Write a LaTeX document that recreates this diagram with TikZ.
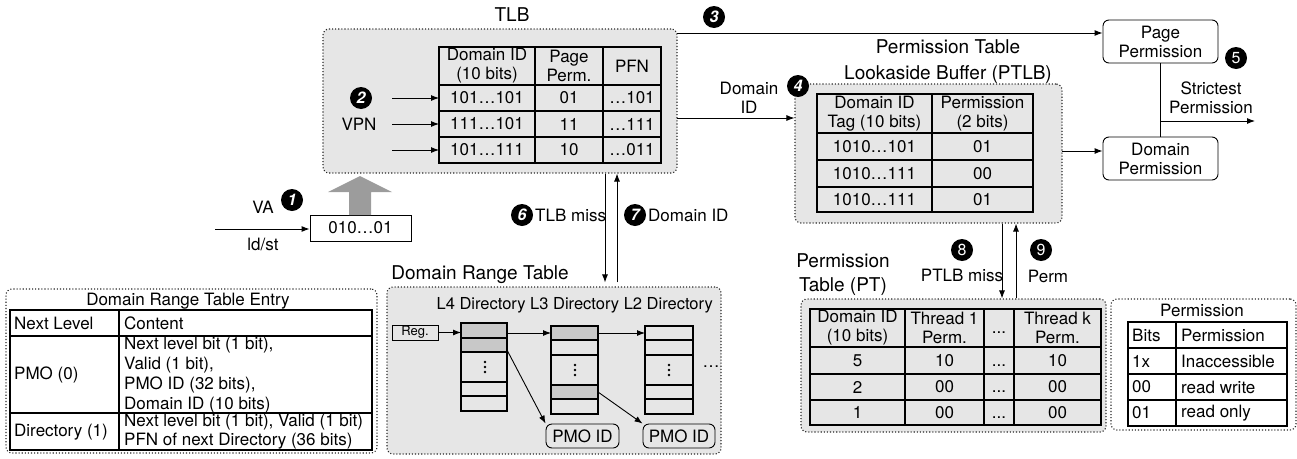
\documentclass[tikz,border=0pt]{standalone}
\usepackage{fontspec}
\setmainfont{TeX Gyre Heros}
\usetikzlibrary{arrows.meta,calc,fit}
\definecolor{boxgrey}{HTML}{E6E6E6}
\definecolor{cellgrey}{HTML}{C8C8C8}
\definecolor{bigarrow}{HTML}{9C9C9C}
\begin{document}
\begin{tikzpicture}[x=1pt,y=-1pt,
  font=\fontsize{17}{19}\selectfont,
  arr/.style={-{Latex[length=8pt,width=6pt]}, line width=0.9pt},
  dotbox/.style={draw=black!85, dotted, line width=1.1pt, rounded corners=6pt, inner sep=0pt},
  rbox/.style={draw, rounded corners=6pt, line width=0.9pt, inner sep=0pt, align=center},
  tl/.style={line width=1.1pt},
  txt/.style={inner sep=0pt, align=center},
  ltxt/.style={inner sep=0pt, anchor=west, align=left},
  title/.style={inner sep=0pt, align=center, font=\fontsize{19}{25}\selectfont},
  num/.style={circle, fill=black, text=white, inner sep=0pt, minimum size=22pt, font=\fontsize{16}{16}\selectfont\bfseries\itshape},
  numu/.style={num, font=\fontsize{16}{16}\selectfont}
]
\useasboundingbox (0,0) rectangle (1297,458);

% ================= TLB =================
\node[title] (tlbtitle) at (512,15) {TLB};
\node[dotbox, fill=boxgrey, fit={(323,29) (677,173)}] (tlb) {};
\draw[tl] (439,47) rectangle (661,163);
\foreach \y in {85,111,137} \draw[tl] (439,\y) -- (661,\y);
\foreach \x in {535,603} \draw[tl] (\x,47) -- (\x,163);
\node[txt] (th1) at (487,66) {Domain ID\\(10 bits)};
\node[txt] (th2) at (569,66) {Page\\Perm.};
\node[txt] (th3) at (632,66) {PFN};
\node[txt] (t11) at (487,98) {101…101};
\node[txt] (t12) at (569,98) {01};
\node[txt] (t13) at (632,98) {…101};
\node[txt] (t21) at (487,124) {111…101};
\node[txt] (t22) at (569,124) {11};
\node[txt] (t23) at (632,124) {…111};
\node[txt] (t31) at (487,150) {101…111};
\node[txt] (t32) at (569,150) {10};
\node[txt] (t33) at (632,150) {…011};
\foreach \y/\n in {98/a,124/b,150/c} {
  \coordinate (vs\n) at (392,\y);
  \coordinate (ve\n) at (439,\y);
  \draw[arr] (vs\n) -- (ve\n);
}
\node[num] (n2) at (361,98) {2};
\node[txt] (vpn) at (359,124) {VPN};

% VA input
\node[draw, line width=0.9pt, minimum width=101pt, minimum height=26pt, inner sep=0pt] (va) at (360.5,228) {010…01};
\coordinate (ldst) at (215,229);
\draw[arr] (ldst) -- (va.west |- ldst);
\node[txt] (ldsttxt) at (263,244) {ld/st};
\node[txt] (vatxt) at (263,207) {VA};
\node[num] (n1) at (292,200) {1};
\fill[bigarrow] (349,215) -- (349,192) -- (328,192) -- (360,176) -- (392,192) -- (371,192) -- (371,215) -- cycle;

% ================= Page / Domain permission =================
\node[rbox, minimum width=115pt, minimum height=43pt] (pagep) at (1160.5,41.5) {Page\\Permission};
\node[rbox, minimum width=115pt, minimum height=43pt] (domp) at (1160.5,158.5) {Domain\\Permission};
\coordinate (a3) at (677,33);
\draw[arr] (a3) -- (pagep.west |- a3);
\node[num] (n3) at (714,17) {3};
\draw[line width=0.9pt] (pagep.south) -- (domp.north);
\coordinate (sp) at (1160.5,121);
\coordinate (spe) at (1255,121);
\draw[arr] (sp) -- (spe);
\node[txt] (strict) at (1211,98) {Strictest\\Permission};
\node[numu] (n5) at (1236,58) {5};

% ================= PTLB =================
\node[title, font=\fontsize{19}{26}\selectfont] (ptlbtitle) at (948,62) {Permission Table\\Lookaside Buffer (PTLB)};
\node[dotbox, fill=boxgrey, fit={(795,84) (1062,223)}] (ptlb) {};
\draw[tl] (817,94) rectangle (1033,212);
\foreach \y in {133,160,187} \draw[tl] (817,\y) -- (1033,\y);
\draw[tl] (932,94) -- (932,212);
\node[txt] (ph1) at (874.5,113.5) {Domain ID\\Tag (10 bits)};
\node[txt] (ph2) at (982.5,113.5) {Permission\\(2 bits)};
\node[txt] (p11) at (874.5,146.5) {1010…101};
\node[txt] (p12) at (982.5,146.5) {01};
\node[txt] (p21) at (874.5,173.5) {1010…111};
\node[txt] (p22) at (982.5,173.5) {00};
\node[txt] (p31) at (874.5,199.5) {1010…111};
\node[txt] (p32) at (982.5,199.5) {01};
\coordinate (a4) at (677,118);
\draw[arr] (a4) -- (ptlb.west |- a4);
\node[txt] (didl) at (749,98) {Domain\\ID};
\node[num] (n4) at (798,86) {4};
\coordinate (a5) at (1062,151);
\draw[arr] (a5) -- (domp.west |- a5);

% ================= TLB <-> DRT =================
\coordinate (m6) at (605,0);
\coordinate (m7) at (617,0);
\node[dotbox, fill=boxgrey, fit={(387,287) (721,454)}] (drt) {};
\draw[arr] (tlb.south -| m6) -- ($(drt.north -| m6)+(0,-4)$);
\draw[arr] ($(drt.north -| m7)+(0,-4)$) -- (tlb.south -| m7);
\node[num] (n6) at (522,215) {6};
\node[ltxt] (tlbmiss) at (535,215) {TLB miss};
\node[num] (n7) at (635,215) {7};
\node[ltxt] (domid7) at (648,215) {Domain ID};

% ================= Domain Range Table =================
\node[title] (drttitle) at (480,275) {Domain Range Table};
\node[inner sep=0pt, anchor=east, font=\fontsize{16.5}{20}\selectfont] (lvls) at (713,305) {L4 Directory L3 Directory L2 Directory};
\node[draw, line width=0.9pt, minimum width=46pt, minimum height=15pt, inner sep=0pt, font=\fontsize{13}{13}\selectfont] (reg) at (415,332.5) {Reg.};
% L4 column
\fill[cellgrey] (461,323) rectangle (507,352);
\draw[tl] (461,323) rectangle (507,411);
\foreach \y in {338,352,382,396} \draw[tl] (461,\y) -- (507,\y);
% L3 column
\fill[cellgrey] (551,326) rectangle (598,340);
\fill[cellgrey] (551,385) rectangle (598,399);
\draw[tl] (551,326) rectangle (598,414);
\foreach \y in {340,355,385,399} \draw[tl] (551,\y) -- (598,\y);
% L2 column
\draw[tl] (645,326) rectangle (693,414);
\foreach \y in {340,355,385,399} \draw[tl] (645,\y) -- (693,\y);
% dots
\foreach \x/\y in {485/367,575/370,669/370} {
  \fill (\x,\y-5) circle (1.3);
  \fill (\x,\y) circle (1.3);
  \fill (\x,\y+5) circle (1.3);
}
\node[txt] (more) at (711,367) {…};
\node[rbox, minimum width=73pt, minimum height=24pt, font=\fontsize{17}{17}\selectfont] (pmo1) at (582.5,436) {PMO ID};
\node[rbox, minimum width=72pt, minimum height=24pt, font=\fontsize{17}{17}\selectfont] (pmo2) at (679,436) {PMO ID};
\coordinate (l4l1) at (461,332.5);
\coordinate (l4r1) at (507,333);
\coordinate (l3l1) at (551,333);
\coordinate (l3r1) at (598,333);
\coordinate (l2l1) at (645,333);
\draw[arr] (reg.east) -- (l4l1);
\draw[arr] (l4r1) -- (l3l1);
\draw[arr] (l3r1) -- (l2l1);
\coordinate (l4r2) at (507,350);
\coordinate (l3r4) at (598,392);
\draw[arr] (l4r2) -- (pmo1.north west);
\draw[arr] (l3r4) -- (pmo2.north west);

% ================= Domain Range Table Entry =================
\node[dotbox, fill=white, fit={(6,289) (377,453)}] (dre) {};
\node[txt] (dretitle) at (188,301) {Domain Range Table Entry};
\draw[tl] (10,310) rectangle (372,450);
\foreach \y in {336,413} \draw[tl] (10,\y) -- (372,\y);
\draw[tl] (119,310) -- (119,450);
\node[ltxt] (e1) at (14,323) {Next Level};
\node[ltxt] (e2) at (124,323) {Content};
\node[ltxt] (e3) at (14,375) {PMO (0)};
\node[ltxt, font=\fontsize{17}{20}\selectfont] (e4) at (124,375) {Next level bit (1 bit),\\Valid (1 bit),\\PMO ID (32 bits),\\Domain ID (10 bits)};
\node[ltxt] (e5) at (14,432) {Directory (1)};
\node[ltxt, font=\fontsize{17}{19}\selectfont] (e6) at (124,432) {Next level bit (1 bit), Valid (1 bit)\\PFN of next Directory (36 bits)};

% ================= Permission Table =================
\node[title, font=\fontsize{19}{24}\selectfont] (pttitle) at (843,275) {Permission\\Table (PT)};
\node[dotbox, fill=boxgrey, fit={(801,299) (1106,432)}] (pt) {};
\coordinate (m8) at (1002,0);
\coordinate (m9) at (1016,0);
\draw[arr] (ptlb.south -| m8) -- (pt.north -| m8);
\draw[arr] (pt.north -| m9) -- (ptlb.south -| m9);
\node[numu] (n8) at (962,250) {8};
\node[txt] (ptlbmiss) at (962,275) {PTLB miss};
\node[numu] (n9) at (1041,250) {9};
\node[txt] (perm9) at (1048,276) {Perm};
\draw[tl] (810,309) rectangle (1101,425);
\foreach \y in {347,374,400} \draw[tl] (810,\y) -- (1101,\y);
\foreach \x in {905,984,1014} \draw[tl] (\x,309) -- (\x,425);
\node[txt] (q1) at (857.5,328) {Domain ID\\(10 bits)};
\node[txt] (q2) at (944.5,328) {Thread 1\\Perm.};
\node[txt] (q3) at (999,328) {\vphantom{0}...};
\node[txt] (q4) at (1057.5,328) {Thread k\\Perm.};
\foreach \y/\a/\b in {360.5/5/10, 387/2/00, 412.5/1/00} {
  \node[txt] at (857.5,\y) {\a};
  \node[txt] at (944.5,\y) {\b};
  \node[txt] at (999,\y) {\vphantom{0}...};
  \node[txt] at (1057.5,\y) {\b};
}

% ================= Permission legend =================
\node[dotbox, fill=white, fit={(1111,299) (1296,430)}] (leg) {};
\node[txt] (legtitle) at (1202,310) {Permission};
\draw[tl] (1128,322) rectangle (1287,426);
\foreach \y in {348,374,400} \draw[tl] (1128,\y) -- (1287,\y);
\draw[tl] (1176,322) -- (1176,426);
\foreach \y/\a/\b in {335/Bits/Permission, 361/1x/Inaccessible, 387/00/read write, 413/01/read only} {
  \node[ltxt] at (1132,\y) {\a};
  \node[ltxt] at (1181,\y) {\b};
}
\end{tikzpicture}
\end{document}
